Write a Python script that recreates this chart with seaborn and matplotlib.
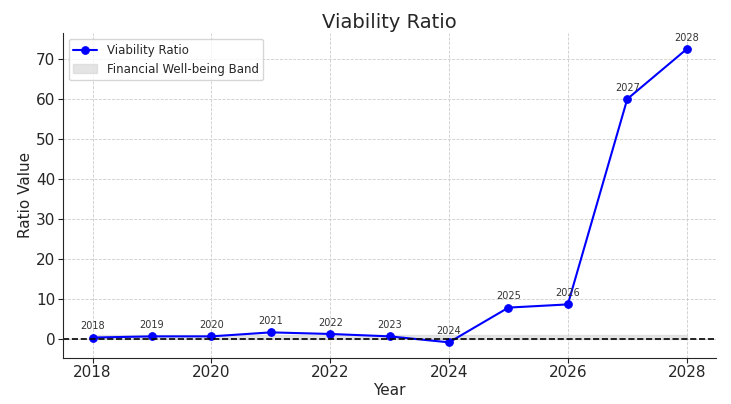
import seaborn as sns
import pandas as pd
import matplotlib.pyplot as plt

years = [2018, 2019, 2020, 2021, 2022, 2023, 2024, 2025, 2026, 2027, 2028]
ratio = [0.3, 0.6, 0.6, 1.6, 1.2, 0.6, -0.9, 7.8, 8.6, 60.0, 72.5]
band_low = 0
band_high = 1

df = pd.DataFrame({"Year": years, "Ratio": ratio})

sns.set_style("ticks")
fig, ax = plt.subplots(figsize=(7.31, 4.04), dpi=100)

sns.lineplot(data=df, x="Year", y="Ratio", marker="o", color="blue",
             markersize=5.5, markeredgecolor="blue", linewidth=1.5,
             label="Viability Ratio", ax=ax)
ax.fill_between(df["Year"], band_low, band_high, color="lightgrey",
                alpha=0.6, label="Financial Well-being Band")
ax.axhline(0, color="black", linestyle="--", linewidth=1.2)

for x, y in zip(df["Year"], df["Ratio"]):
    ax.annotate(str(x), (x, y), textcoords="offset points", xytext=(0, 6),
                ha="center", fontsize=7, color="#333333")

ax.set_xlim(2017.5, 2028.5)
ax.set_ylim(-4.7, 76.5)
ax.set_xticks([2018, 2020, 2022, 2024, 2026, 2028])
ax.grid(True, linestyle="--", color="#cccccc", linewidth=0.6)
sns.despine(ax=ax)
ax.set_title("Viability Ratio", fontsize=14, pad=4)
ax.set_xlabel("Year", fontsize=11, labelpad=2)
ax.set_ylabel("Ratio Value", fontsize=11, labelpad=2)
ax.tick_params(labelsize=11, pad=2)
ax.legend(loc="upper left", fontsize=8.5)

plt.subplots_adjust(left=0.086, right=0.98, top=0.918, bottom=0.115)
plt.savefig("out.png")
